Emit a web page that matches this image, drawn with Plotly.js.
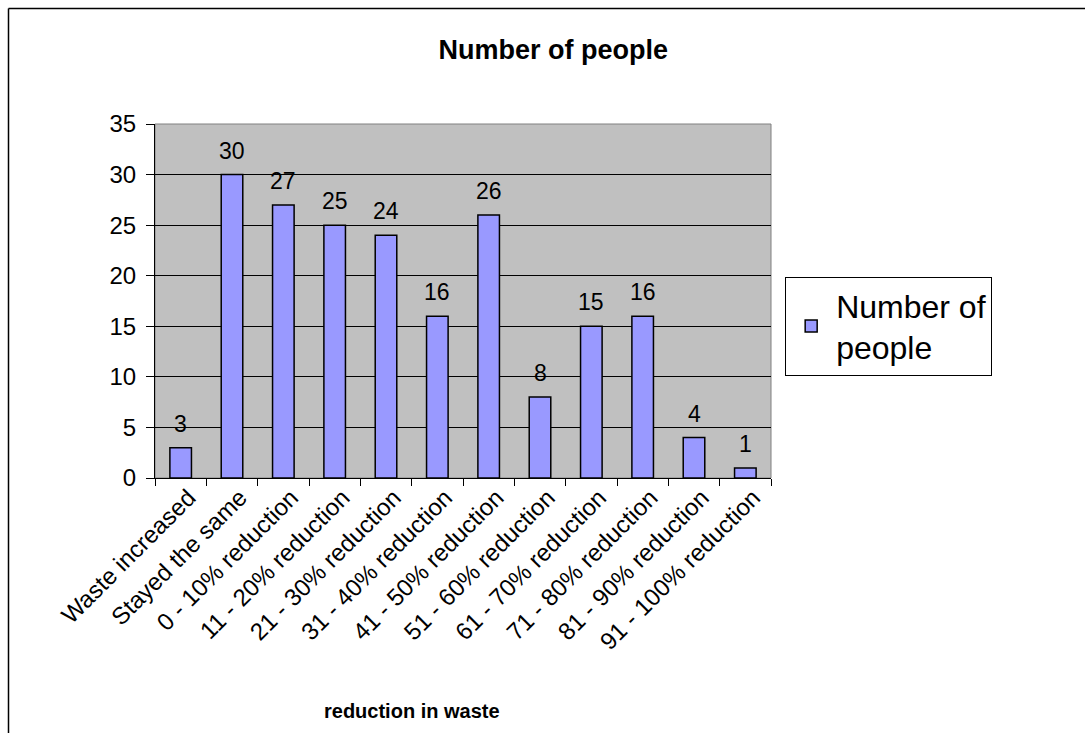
<!DOCTYPE html>
<html>
<head>
<meta charset="utf-8">
<script src="https://cdn.plot.ly/plotly-3.0.1.min.js"></script>
<style>
html,body{margin:0;padding:0;background:#fff;overflow:hidden;}
#chart{width:1085px;height:733px;}
</style>
</head>
<body>
<div id="chart"></div>
<script>
var categories = ["Waste increased","Stayed the same","0 - 10% reduction","11 - 20% reduction","21 - 30% reduction","31 - 40% reduction","41 - 50% reduction","51 - 60% reduction","61 - 70% reduction","71 - 80% reduction","81 - 90% reduction","91 - 100% reduction"];
var values = [3,30,27,25,24,16,26,8,15,16,4,1];
var seriesName = "Number of<br>people";
var chartTitle = "Number of people";
var xTitle = "reduction in waste";

var FONT = "Liberation Sans, Arial, sans-serif";

var trace = {
  type: "bar",
  x: categories,
  y: values,
  name: seriesName,
  width: 0.42,
  marker: {color: "#9999ff", line: {color: "#000", width: 1.5}},
  showlegend: true
};

var labelAnnotations = categories.map(function (c, i) {
  return {
    x: c, y: values[i], xref: "x", yref: "y",
    text: String(values[i]), showarrow: false,
    xanchor: "center", yanchor: "bottom", yshift: 9,
    font: {family: FONT, size: 23, color: "#000"}
  };
});

var L = 155, T = 124, W = 616, H = 354;
var layout = {
  width: 1085, height: 733,
  margin: {l: 155, r: 314, t: 124, b: 255},
  paper_bgcolor: "#fff",
  plot_bgcolor: "#c0c0c0",
  font: {family: FONT, color: "#000"},
  title: {text: "<b>" + chartTitle + "</b>", font: {family: FONT, size: 27, color: "#000"}, x: 0.51, xanchor: "center", y: 1 - 50/733, yanchor: "middle"},
  showlegend: true,
  legend: {x: 1.023, xanchor: "left", y: 0.568, yanchor: "top", bordercolor: "#000", borderwidth: 1, bgcolor: "#fff", font: {family: FONT, size: 32, color: "#000"}, itemwidth: 40},
  bargap: 0.58,
  xaxis: {
    type: "category",
    tickangle: -45,
    tickson: "boundaries",
    ticks: "outside", ticklen: 7, tickcolor: "#000", tickwidth: 1,
    ticklabelshift: 8,
    ticklabelstandoff: -5,
    showline: true, linecolor: "#000", linewidth: 1,
    showgrid: false,
    tickfont: {family: FONT, size: 24, color: "#000"},
    fixedrange: true
  },
  yaxis: {
    range: [0, 35], dtick: 5, tick0: 0,
    ticks: "outside", ticklen: 8, tickcolor: "#000", tickwidth: 1,
    ticklabelstandoff: 5,
    showline: true, linecolor: "#000", linewidth: 1,
    showgrid: true, gridcolor: "#000", gridwidth: 1,
    zeroline: false,
    tickfont: {family: FONT, size: 24, color: "#000"},
    fixedrange: true
  },
  shapes: [
    {type: "rect", xref: "paper", yref: "paper", x0: 0, x1: 1, y0: 0, y1: 1, line: {color: "#808080", width: 1}, layer: "below"},
    {type: "line", xref: "paper", yref: "paper", x0: (8.5-L)/W, x1: (8.5-L)/W, y0: 1 + (T-8.5)/H, y1: 1 + (T-800)/H, line: {color: "#000", width: 1.5}},
    {type: "line", xref: "paper", yref: "paper", x0: (8.5-L)/W, x1: (1200-L)/W, y0: 1 + (T-8.5)/H, y1: 1 + (T-8.5)/H, line: {color: "#000", width: 1.5}}
  ],
  annotations: labelAnnotations.concat([{
    text: "<b>" + xTitle + "</b>", xref: "paper", yref: "paper",
    x: (412-L)/W, y: (478-711)/H, xanchor: "center", yanchor: "middle",
    showarrow: false, font: {family: FONT, size: 20, color: "#000"}
  }])
};

Plotly.newPlot("chart", [trace], layout, {displayModeBar: false, staticPlot: true});
</script>
</body>
</html>
